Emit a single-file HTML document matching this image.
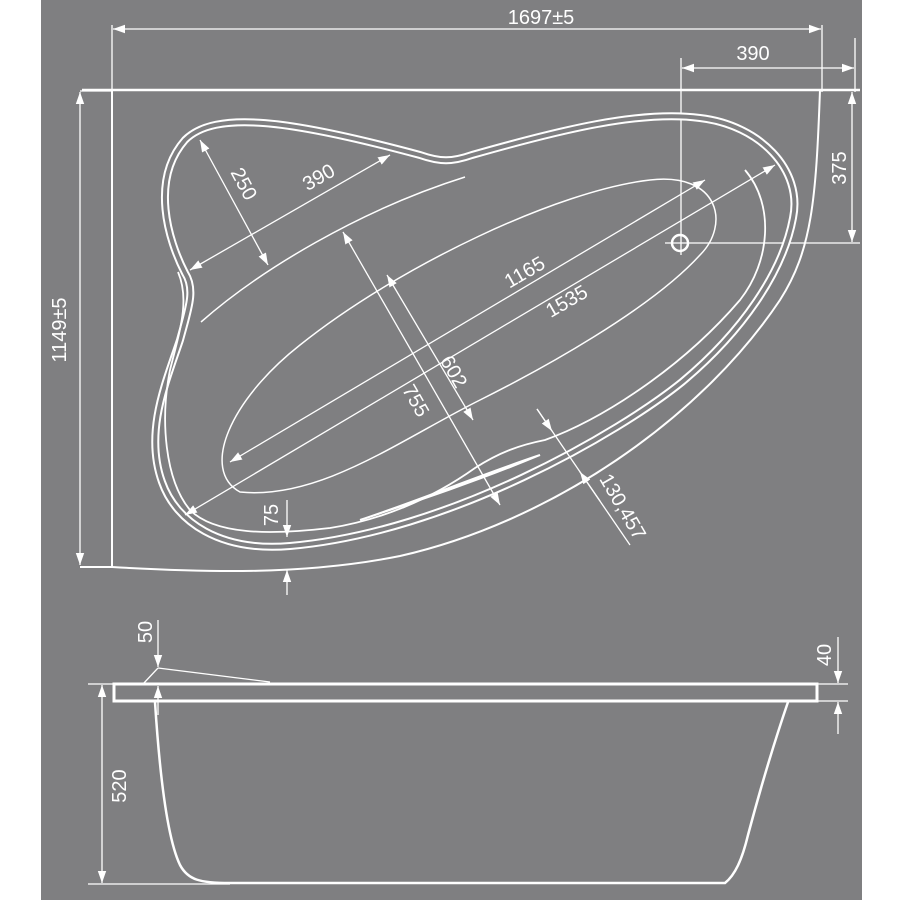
<!DOCTYPE html>
<html><head><style>
html,body{margin:0;padding:0;background:#fff;}
svg{display:block;}
text{font-family:"Liberation Sans",sans-serif;fill:#fff;font-size:20px;}
</style></head><body>
<svg width="900" height="900" viewBox="0 0 900 900" xmlns="http://www.w3.org/2000/svg">
<defs>
<marker id="a" viewBox="0 0 10 10" refX="10" refY="5" markerWidth="12" markerHeight="12" markerUnits="userSpaceOnUse" orient="auto-start-reverse"><path d="M0,1.5 L10,5 L0,8.5 Z" fill="#fff"/></marker>
</defs>
<rect x="41" y="0" width="821" height="900" fill="#7f7f81"/>
<g stroke="#fff" fill="none" stroke-width="1.3">
<line x1="112" y1="25" x2="112" y2="92"/>
<line x1="822" y1="25" x2="822" y2="92"/>
<line x1="113" y1="29" x2="821" y2="29" marker-start="url(#a)" marker-end="url(#a)"/>
<line x1="681" y1="58" x2="681" y2="255"/>
<line x1="855" y1="38" x2="855" y2="92"/>
<line x1="682" y1="68" x2="854" y2="68" marker-start="url(#a)" marker-end="url(#a)"/>
<line x1="80" y1="91" x2="112" y2="91"/>
<line x1="80" y1="92" x2="80" y2="565" marker-start="url(#a)" marker-end="url(#a)"/>
<line x1="852" y1="92" x2="852" y2="242" marker-start="url(#a)" marker-end="url(#a)"/>
<line x1="665" y1="243" x2="860" y2="243"/>
<circle cx="680" cy="243" r="8" stroke-width="2.5"/>
<path d="M82,90 L860,90" stroke-width="2.5"/>
<line x1="112" y1="90" x2="112" y2="567" stroke-width="2"/>
<path d="M80,567 L112,567 C200,572 300,576 400,556 C550,522 700,420 780,300 C812,250 816,200 820,90" stroke-width="2"/>
<path d="M185,273 C168,240 150,180 185,140 C215,110 290,120 420,155 C440,162 452,162 472,155 C560,130 640,110 700,118 C760,125 803,170 793,218 C783,272 742,332 682,382 C620,432 450,532 290,546 C220,552 176,522 162,482 C144,432 166,382 180,340 C188,310 196,290 185,273 Z" stroke-width="8"/>
<path d="M185,273 C168,240 150,180 185,140 C215,110 290,120 420,155 C440,162 452,162 472,155 C560,130 640,110 700,118 C760,125 803,170 793,218 C783,272 742,332 682,382 C620,432 450,532 290,546 C220,552 176,522 162,482 C144,432 166,382 180,340 C188,310 196,290 185,273 Z" stroke="#7f7f81" stroke-width="4"/>
<path d="M178,272 C190,300 180,330 170,370 C160,420 165,480 190,510 C215,535 270,535 330,528 C380,520 430,500 475,468 C500,452 520,445 545,440 C600,420 680,370 740,300 C770,262 775,205 745,170" stroke-width="1.8"/>
<path d="M360,520 C420,500 480,480 540,455 C480,475 420,500 360,520" stroke-width="2"/>
<path d="M201,322 C260,270 360,210 465,177" stroke-width="1.5"/>
<path d="M240,492 C200,470 230,400 300,345 C400,265 560,190 650,180 C720,172 730,225 700,255 C650,310 540,370 480,400 C400,440 320,500 240,492 Z" stroke-width="1.5"/>
<line x1="200" y1="140" x2="268" y2="265" marker-start="url(#a)" marker-end="url(#a)"/>
<line x1="190" y1="270" x2="390" y2="155" marker-start="url(#a)" marker-end="url(#a)"/>
<line x1="230" y1="462" x2="705" y2="180" marker-start="url(#a)" marker-end="url(#a)"/>
<line x1="185" y1="515" x2="775" y2="165" marker-start="url(#a)" marker-end="url(#a)"/>
<line x1="343" y1="232" x2="500" y2="505" marker-start="url(#a)" marker-end="url(#a)"/>
<line x1="387" y1="275" x2="473" y2="420" marker-start="url(#a)" marker-end="url(#a)"/>
<line x1="537" y1="409" x2="630" y2="545"/>
<line x1="537" y1="409" x2="552" y2="431" marker-end="url(#a)"/>
<line x1="600" y1="501" x2="580" y2="472" marker-end="url(#a)"/>
<line x1="287" y1="500" x2="287" y2="537" marker-end="url(#a)"/>
<line x1="287" y1="595" x2="287" y2="570" marker-end="url(#a)"/>
<rect x="114" y="684" width="703" height="17" stroke-width="3"/>
<line x1="88" y1="684" x2="114" y2="684"/>
<line x1="102" y1="685" x2="102" y2="883" marker-start="url(#a)" marker-end="url(#a)"/>
<line x1="88" y1="884" x2="230" y2="884"/>
<path d="M155,702 C160,780 168,840 180,865 C188,880 200,883 230,883 L725,883 C735,875 742,860 748,835 C760,790 775,740 788,702" stroke-width="2.5"/>
<line x1="158" y1="620" x2="158" y2="667" marker-end="url(#a)"/>
<line x1="158" y1="668" x2="270" y2="682"/>
<line x1="158" y1="668" x2="143" y2="684"/>
<line x1="158" y1="715" x2="158" y2="686" marker-end="url(#a)"/>
<line x1="818" y1="684" x2="848" y2="684"/>
<line x1="818" y1="701" x2="848" y2="701"/>
<line x1="838" y1="637" x2="838" y2="683" marker-end="url(#a)"/>
<line x1="838" y1="734" x2="838" y2="702" marker-end="url(#a)"/>
</g>
<g>
<text x="541" y="24" text-anchor="middle">1697±5</text>
<text x="753" y="60" text-anchor="middle">390</text>
<text transform="translate(66,330) rotate(-90)" text-anchor="middle">1149±5</text>
<text transform="translate(846,168) rotate(-90)" text-anchor="middle">375</text>
<text transform="translate(238,187) rotate(62)" text-anchor="middle">250</text>
<text transform="translate(322,183) rotate(-30)" text-anchor="middle">390</text>
<text transform="translate(528,278) rotate(-30)" text-anchor="middle">1165</text>
<text transform="translate(570,307) rotate(-30)" text-anchor="middle">1535</text>
<text transform="translate(448,375) rotate(60)" text-anchor="middle">602</text>
<text transform="translate(410,404) rotate(60)" text-anchor="middle">755</text>
<text transform="translate(617,510) rotate(60)" text-anchor="middle">130,457</text>
<text transform="translate(278,515) rotate(-90)" text-anchor="middle">75</text>
<text transform="translate(152,632) rotate(-90)" text-anchor="middle">50</text>
<text transform="translate(126,786) rotate(-90)" text-anchor="middle">520</text>
<text transform="translate(831,655) rotate(-90)" text-anchor="middle">40</text>
</g>
</svg>
</body></html>
